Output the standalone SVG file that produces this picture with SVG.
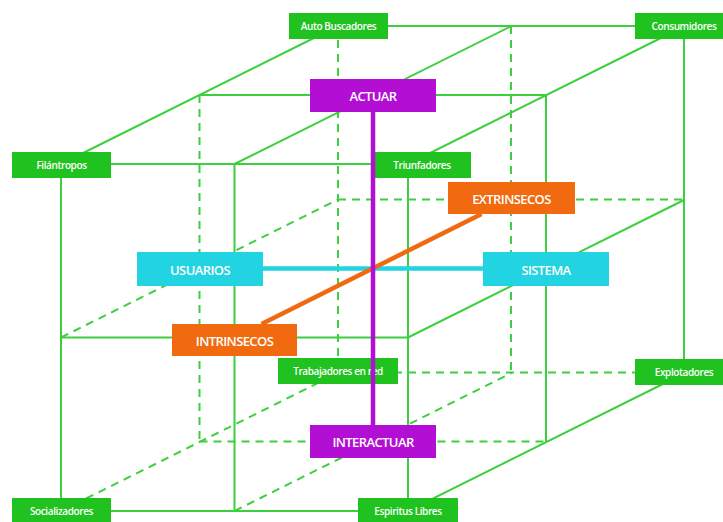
<svg xmlns="http://www.w3.org/2000/svg" width="723" height="522" viewBox="0 0 723 522">
<style>
.g{stroke:#3dcf3d;stroke-width:2;fill:none}
.d{stroke:#3dcf3d;stroke-width:2;fill:none;stroke-dasharray:8 6}
.gb{fill:#1fc21f}
.lt{font-family:"Open Sans","Noto Sans",sans-serif;font-size:10px;font-weight:600;fill:#fff;text-anchor:middle;dominant-baseline:central;letter-spacing:-0.4px}
.bt{font-family:"Open Sans","Noto Sans",sans-serif;font-size:13px;font-weight:600;fill:#fff;text-anchor:middle;dominant-baseline:central;letter-spacing:-0.6px}
.pu{fill:#b30fd4}.cy{fill:#22d3e2}.or{fill:#f26a10}
</style>
<rect width="723" height="522" fill="#fff"/>
<g id="connectors">
<line class="g" x1="61" y1="164" x2="408" y2="164"/>
<line class="g" x1="199.5" y1="95" x2="546" y2="95"/>
<line class="g" x1="338" y1="26" x2="684" y2="26"/>
<line class="g" x1="61" y1="337.5" x2="408" y2="337.5"/>
<line class="d" x1="338" y1="199.5" x2="684" y2="199.5"/>
<line class="g" x1="61" y1="511" x2="408" y2="511"/>
<line class="d" x1="199.5" y1="441.5" x2="546" y2="441.5"/>
<line class="d" x1="338" y1="372.5" x2="684" y2="372.5"/>
<line class="g" x1="61" y1="164" x2="61" y2="511"/>
<line class="g" x1="234.5" y1="164" x2="234.5" y2="511"/>
<line class="g" x1="408" y1="164" x2="408" y2="511"/>
<line class="d" x1="199.5" y1="95" x2="199.5" y2="441.5"/>
<line class="g" x1="546" y1="95" x2="546" y2="441.5"/>
<line class="d" x1="338" y1="26" x2="338" y2="372.5"/>
<line class="d" x1="511" y1="26" x2="511" y2="372.5"/>
<line class="g" x1="684" y1="26" x2="684" y2="372.5"/>
<line class="g" x1="61" y1="164" x2="338" y2="26"/>
<line class="g" x1="234.5" y1="164" x2="511.5" y2="26"/>
<line class="g" x1="408" y1="164" x2="685" y2="26"/>
<line class="d" x1="61" y1="337.5" x2="338" y2="199.5"/>
<line class="g" x1="408" y1="337.5" x2="685" y2="199.5"/>
<line class="d" x1="61" y1="511" x2="338" y2="373"/>
<line class="d" x1="234.5" y1="511" x2="511.5" y2="373"/>
<line class="g" x1="408" y1="511" x2="685" y2="373"/>
</g>
<g id="auto-buscadores"><rect class="gb" x="289" y="13" width="99" height="26"/><text class="lt" x="338.5" y="26">Auto Buscadores</text></g>
<g id="consumidores"><rect class="gb" x="635" y="13" width="99" height="26"/><text class="lt" x="684" y="26">Consumidores</text></g>
<g id="filantropos"><rect class="gb" x="12" y="152" width="99" height="26"/><text class="lt" x="61.5" y="165">Filántropos</text></g>
<g id="triunfadores"><rect class="gb" x="374" y="152" width="97" height="26"/><text class="lt" x="422" y="165">Triunfadores</text></g>
<g id="trabajadores-en-red"><rect class="gb" x="278" y="358" width="120" height="26"/><text class="lt" x="338" y="371">Trabajadores en red</text></g>
<g id="explotadores"><rect class="gb" x="635" y="359" width="99" height="26"/><text class="lt" x="684" y="372">Explotadores</text></g>
<g id="socializadores"><rect class="gb" x="12" y="498" width="99" height="26"/><text class="lt" x="61.5" y="511">Socializadores</text></g>
<g id="espiritus-libres"><rect class="gb" x="358" y="498" width="100" height="26"/><text class="lt" x="408" y="511">Espiritus Libres</text></g>
<g id="axes">
<line x1="263" y1="268.5" x2="483" y2="268.5" stroke="#22d3e2" stroke-width="4.5"/>
<line x1="261.5" y1="324" x2="481.5" y2="214" stroke="#f26a10" stroke-width="4.5"/>
<line x1="373" y1="112" x2="373" y2="425" stroke="#b30fd4" stroke-width="4.5"/>
</g>
<g id="actuar"><rect class="pu" x="310" y="79" width="126" height="33"/><text class="bt" x="373" y="96">ACTUAR</text></g>
<g id="interactuar"><rect class="pu" x="310" y="425" width="126" height="33"/><text class="bt" x="373" y="442">INTERACTUAR</text></g>
<g id="extrinsecos"><rect class="or" x="448" y="182" width="127" height="32"/><text class="bt" x="511.5" y="198.5">EXTRINSECOS</text></g>
<g id="usuarios"><rect class="cy" x="137" y="252" width="126" height="34"/><text class="bt" x="200" y="269.5">USUARIOS</text></g>
<g id="sistema"><rect class="cy" x="483" y="252" width="126" height="34"/><text class="bt" x="546" y="269.5">SISTEMA</text></g>
<g id="intrinsecos"><rect class="or" x="172" y="324" width="125" height="32"/><text class="bt" x="234.5" y="340.5">INTRINSECOS</text></g>
</svg>
